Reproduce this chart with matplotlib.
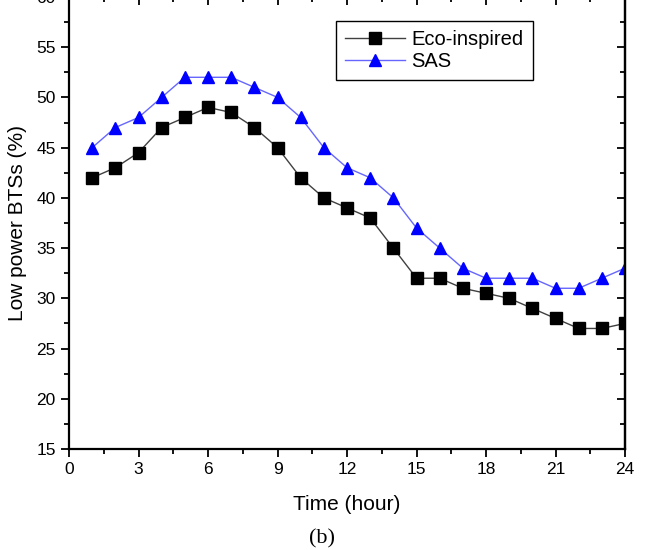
import matplotlib.pyplot as plt
from matplotlib.ticker import MultipleLocator

plt.rcParams['font.family'] = ['Liberation Sans', 'DejaVu Sans']

hours = list(range(1, 25))
eco = [42, 43, 44.5, 47, 48, 49, 48.5, 47, 45, 42, 40, 39,
       38, 35, 32, 32, 31, 30.5, 30, 29, 28, 27, 27, 27.5]
sas = [45, 47, 48, 50, 52, 52, 52, 51, 50, 48, 45, 43,
       42, 40, 37, 35, 33, 32, 32, 32, 31, 31, 32, 33]

fig = plt.figure(figsize=(6.45, 5.5), dpi=100)
ax = fig.add_axes([0.107, 0.1836, 0.862, 0.822])

ax.plot(hours, eco, color='#404040', lw=1, marker='s', ms=8,
        mfc='black', mec='black', label='Eco-inspired')
ax.plot(hours, sas, color='#6666ff', lw=1, marker='^', ms=9,
        mfc='#0000ff', mec='#0000ff', label='SAS')

ax.set_xlim(0, 24)
ax.set_ylim(15, 60)
ax.xaxis.set_major_locator(MultipleLocator(3))
ax.xaxis.set_minor_locator(MultipleLocator(1.5))
ax.yaxis.set_major_locator(MultipleLocator(5))
ax.yaxis.set_minor_locator(MultipleLocator(2.5))
ax.tick_params(which='major', direction='out', length=6, width=1.3, labelsize=12.5)
ax.tick_params(which='minor', direction='out', length=3.5, width=1.3)
for s in ax.spines.values():
    s.set_linewidth(1.6)

# ticks on the top and right point inwards
top = ax.secondary_xaxis('top')
top.xaxis.set_major_locator(MultipleLocator(3))
top.xaxis.set_minor_locator(MultipleLocator(1.5))
top.tick_params(which='major', direction='in', length=6, width=1.3, labeltop=False)
top.tick_params(which='minor', direction='in', length=3.5, width=1.3)
right = ax.secondary_yaxis('right')
right.yaxis.set_major_locator(MultipleLocator(5))
right.yaxis.set_minor_locator(MultipleLocator(2.5))
right.tick_params(which='major', direction='in', length=6, width=1.3, labelright=False)
right.tick_params(which='minor', direction='in', length=3.5, width=1.3)
top.spines['top'].set_linewidth(1.6)
right.spines['right'].set_linewidth(1.6)

ax.set_xlabel('Time (hour)', fontsize=15, labelpad=13)
ax.set_ylabel('Low power BTSs (%)', fontsize=15, labelpad=7)

leg = ax.legend(loc='upper left', bbox_to_anchor=(0.48, 0.947), fontsize=14.5,
                fancybox=False, edgecolor='black', framealpha=1,
                handlelength=3.0, borderaxespad=0, labelspacing=0.15,
                borderpad=0.45, handletextpad=0.3)
leg.get_frame().set_linewidth(1)

fig.text(0.5, 0.002, '(b)', ha='center', va='bottom', fontsize=16,
         family=['Liberation Serif', 'DejaVu Serif'])

fig.savefig('out.png', dpi=100)
